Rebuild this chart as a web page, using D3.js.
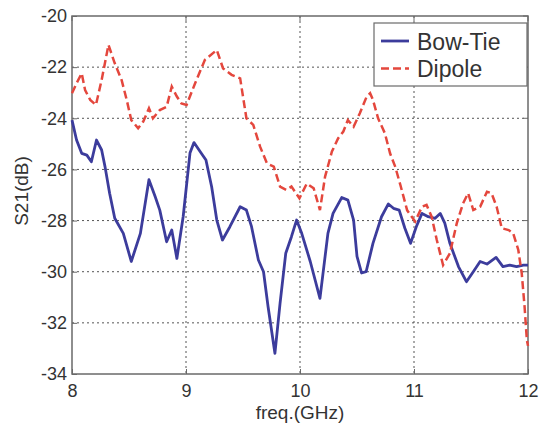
<!DOCTYPE html>
<html>
<head>
<meta charset="utf-8">
<script src="https://cdn.jsdelivr.net/npm/d3@7"></script>
<style>
  body { margin: 0; background: #fff; }
  svg text { font-family: Arial, "Liberation Sans", sans-serif; fill: #333; }
</style>
</head>
<body>
<svg id="chart" width="540" height="428"></svg>
<script>
// values
var bowFreq = [8.0, 8.04, 8.085, 8.13, 8.17, 8.215, 8.26, 8.29, 8.33, 8.375, 8.45, 8.52, 8.6, 8.675, 8.73, 8.77, 8.83, 8.875, 8.92, 8.975,
  9.035, 9.07, 9.125, 9.175, 9.225, 9.27, 9.32, 9.385, 9.475, 9.53, 9.575, 9.635, 9.68, 9.72, 9.78, 9.825, 9.875, 9.925, 9.97,
  10.015, 10.09, 10.175, 10.245, 10.29, 10.366, 10.42, 10.47, 10.5, 10.54, 10.58, 10.64, 10.715, 10.775, 10.82, 10.87, 10.92, 10.97,
  11.02, 11.07, 11.125, 11.185, 11.23, 11.27, 11.315, 11.39, 11.46, 11.52, 11.58, 11.64, 11.72, 11.78, 11.84, 11.9, 11.96, 12.0];
var bowS21 = [-24.07, -24.85, -25.37, -25.44, -25.7, -24.85, -25.24, -25.9, -26.93, -27.91, -28.5, -29.6, -28.5, -26.4, -27.07, -27.59, -28.83, -28.37, -29.48, -27.85,
  -25.36, -24.95, -25.31, -25.63, -26.68, -27.98, -28.76, -28.24, -27.46, -27.59, -28.24, -29.54, -30.0, -31.37, -33.19, -31.24, -29.28, -28.63, -27.98,
  -28.5, -29.6, -31.04, -28.5, -27.72, -27.1, -27.2, -27.98, -29.4, -30.05, -30.0, -28.89, -27.85, -27.35, -27.52, -27.59, -28.3, -28.89,
  -28.24, -27.72, -27.85, -27.91, -27.72, -28.1, -28.89, -29.8, -30.39, -30.0, -29.6, -29.7, -29.44, -29.8, -29.74, -29.8, -29.74, -29.74];

var dipFreq = [8.0, 8.04, 8.085, 8.115, 8.16, 8.21, 8.26, 8.32, 8.375, 8.435, 8.48, 8.52, 8.58, 8.625, 8.675, 8.71, 8.77, 8.83, 8.875, 8.92, 8.96,
  9.005, 9.08, 9.165, 9.27, 9.325, 9.4, 9.475, 9.53, 9.59, 9.65, 9.71, 9.77, 9.825, 9.88, 9.925, 9.995,
  10.06, 10.12, 10.175, 10.22, 10.28, 10.335, 10.38, 10.42, 10.47, 10.525, 10.585, 10.615, 10.64, 10.685, 10.745, 10.79, 10.835, 10.88, 10.94,
  11.01, 11.07, 11.11, 11.155, 11.2, 11.255, 11.315, 11.375, 11.43, 11.475, 11.52, 11.58, 11.64, 11.68, 11.725, 11.77, 11.83, 11.87, 11.915, 11.945, 11.97, 11.99, 12.0];
var dipS21 = [-23.02, -22.63, -22.24, -22.9, -23.28, -23.48, -22.5, -21.13, -21.85, -22.5, -23.28, -24.07, -24.39, -24.13, -23.61, -24.0, -23.68, -23.55, -22.76, -23.15, -23.42,
  -23.48, -22.63, -21.72, -21.33, -22.05, -22.3, -22.44, -24.0, -24.26, -25.11, -25.76, -25.89, -26.67, -26.8, -26.67, -27.13,
  -26.55, -26.74, -27.59, -26.28, -25.3, -24.78, -24.52, -24.07, -24.33, -23.8, -23.15, -23.02, -23.28, -24.0, -24.59, -25.37, -25.89, -26.6, -27.6,
  -28.04, -27.46, -27.39, -27.85, -28.76, -29.74, -29.28, -28.11, -27.33, -26.93, -27.59, -27.46, -26.87, -26.93, -27.46, -28.3, -28.37, -28.5, -29.15, -30.06, -31.37, -32.67, -32.9];

var xTicks = [8, 9, 10, 11, 12];
var yTicks = [-20, -22, -24, -26, -28, -30, -32, -34];
var seriesNames = ["Bow-Tie", "Dipole"];

var pl = 72, pr = 528, pt = 16, pb = 374;
var svg = d3.select("#chart");

var x = d3.scaleLinear().domain([8, 12]).range([pl, pr]);
var y = d3.scaleLinear().domain([-34, -20]).range([pb, pt]);

var axisCol = "#6a6a6a";

// grid
var grid = svg.append("g");
grid.selectAll("line.gx")
    .data(xTicks.slice(1, -1))
    .enter()
    .append("line")
        .attr("x1", function(d) { return x(d); })
        .attr("x2", function(d) { return x(d); })
        .attr("y1", pt).attr("y2", pb)
        .attr("stroke", "#555").attr("stroke-width", 1)
        .attr("stroke-dasharray", "2,3");
grid.selectAll("line.gy")
    .data(yTicks.slice(1, -1))
    .enter()
    .append("line")
        .attr("y1", function(d) { return y(d); })
        .attr("y2", function(d) { return y(d); })
        .attr("x1", pl).attr("x2", pr)
        .attr("stroke", "#555").attr("stroke-width", 1)
        .attr("stroke-dasharray", "2,3");

// axes
var xAxis = svg.append("g")
    .attr("transform", "translate(0," + pb + ")")
    .call(d3.axisBottom(x).tickValues(xTicks).tickSize(-5).tickPadding(10).tickFormat(d3.format("d")));
var yAxis = svg.append("g")
    .attr("transform", "translate(" + pl + ",0)")
    .call(d3.axisLeft(y).tickValues(yTicks).tickSize(-5).tickPadding(5)
        .tickFormat(function(d) { return "-" + Math.abs(d); }));
[xAxis, yAxis].forEach(function(a) {
    a.select(".domain").remove();
    a.selectAll(".tick line").attr("stroke", axisCol);
    a.selectAll(".tick text").style("font-size", "18px").attr("fill", "#333");
});

// top & right mirrored ticks
svg.selectAll("line.tt").data(xTicks).enter().append("line")
    .attr("x1", function(d) { return x(d); }).attr("x2", function(d) { return x(d); })
    .attr("y1", pt).attr("y2", pt + 5).attr("stroke", axisCol);
svg.selectAll("line.tr").data(yTicks).enter().append("line")
    .attr("y1", function(d) { return y(d); }).attr("y2", function(d) { return y(d); })
    .attr("x1", pr).attr("x2", pr - 5).attr("stroke", axisCol);

// frame
svg.append("rect")
    .attr("x", pl).attr("y", pt)
    .attr("width", pr - pl).attr("height", pb - pt)
    .attr("fill", "none").attr("stroke", axisCol).attr("stroke-width", 1.5);

// lines
var line = d3.line()
    .x(function(d) { return x(d[0]); })
    .y(function(d) { return y(d[1]); });

var bow = d3.zip(bowFreq, bowS21);
var dip = d3.zip(dipFreq, dipS21);

svg.append("path")
    .datum(bow)
    .attr("d", line)
    .attr("fill", "none")
    .attr("stroke", "#3c3c9c")
    .attr("stroke-width", 2.8)
    .attr("stroke-linejoin", "round");

svg.append("path")
    .datum(dip)
    .attr("d", line)
    .attr("fill", "none")
    .attr("stroke", "#e4473d")
    .attr("stroke-width", 2.5)
    .attr("stroke-dasharray", "8,4");

// labels
svg.append("text")
    .attr("x", 300).attr("y", 419)
    .attr("text-anchor", "middle")
    .style("font-size", "19px")
    .text("freq.(GHz)");
svg.append("text")
    .attr("transform", "translate(28,191) rotate(-90)")
    .attr("text-anchor", "middle")
    .style("font-size", "19px")
    .text("S21(dB)");

// legend
var lg = svg.append("g");
lg.append("rect")
    .attr("x", 374).attr("y", 23).attr("width", 153).attr("height", 63)
    .attr("fill", "#fff").attr("stroke", axisCol).attr("stroke-width", 1.2);
var styles = [
    { stroke: "#3c3c9c", dash: null, w: 2.8 },
    { stroke: "#e4473d", dash: "8,4", w: 2.5 }
];
lg.selectAll("g.item")
    .data(seriesNames)
    .enter()
    .append("g")
    .each(function(d, i) {
        var g = d3.select(this);
        var cy = 41 + i * 27.5;
        g.append("line")
            .attr("x1", 381).attr("x2", 409).attr("y1", cy).attr("y2", cy)
            .attr("stroke", styles[i].stroke).attr("stroke-width", styles[i].w)
            .attr("stroke-dasharray", styles[i].dash);
        g.append("text")
            .attr("x", 417).attr("y", cy + 8.5)
            .style("font-size", "23px")
            .text(d);
    });
</script>
</body>
</html>
